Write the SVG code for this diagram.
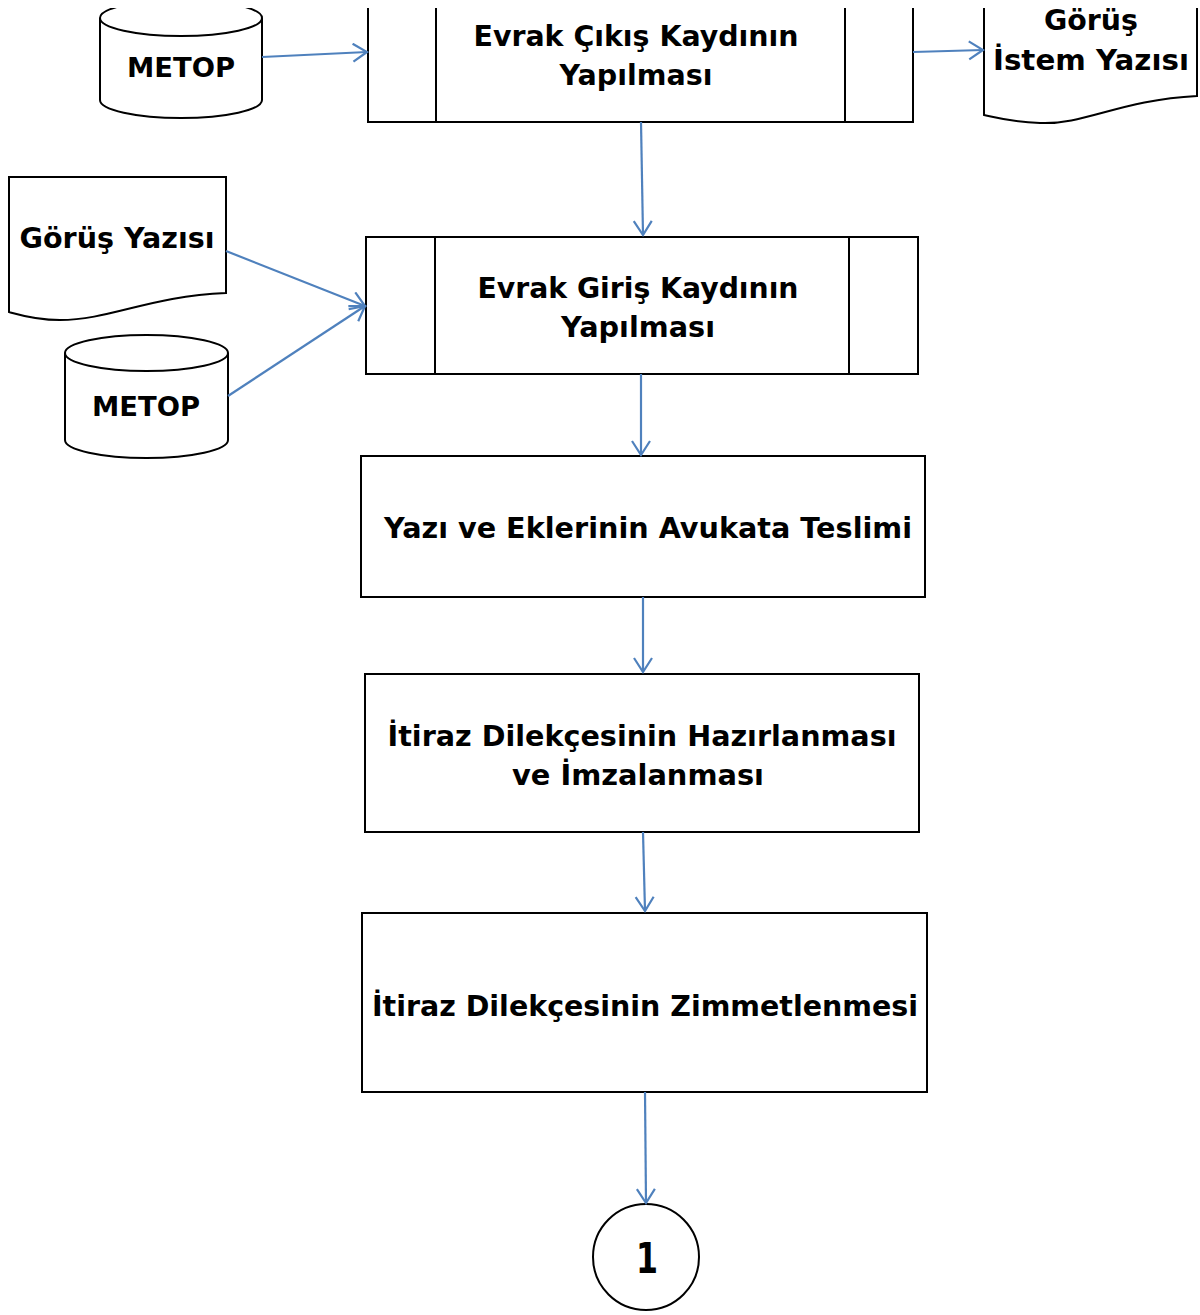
<svg xmlns="http://www.w3.org/2000/svg" width="1200" height="1315" viewBox="0 0 1200 1315">
<defs>
<style>
.s{fill:#fff;stroke:#000;stroke-width:2}
.l{fill:none;stroke:#000;stroke-width:2}
.t{font-family:"DejaVu Sans","Liberation Sans",sans-serif;font-weight:bold;font-size:29px;fill:#000;text-anchor:middle}
.m{font-size:27px}
.c{fill:none;stroke:#4f81bd;stroke-width:2.2}
</style>
<marker id="a" markerWidth="22" markerHeight="22" refX="17" refY="10" orient="auto" markerUnits="userSpaceOnUse">
<path d="M3,1 L17,10 L3,19" fill="none" stroke="#4f81bd" stroke-width="2.2"/>
</marker>
<clipPath id="clip"><rect x="0" y="8" width="1200" height="1307"/></clipPath>
</defs>
<rect width="1200" height="1315" fill="#fff"/>
<g clip-path="url(#clip)">
<g id="metop1">
<path class="s" d="M100,18 V100 A81,18 0 0 0 262,100 V18"/>
<ellipse class="s" cx="181" cy="18" rx="81" ry="18"/>
<text class="t m" x="181" y="77" textLength="108" lengthAdjust="spacingAndGlyphs">METOP</text>
</g>
<g id="cikis">
<rect class="s" x="368" y="-20" width="545" height="142"/>
<path class="l" d="M436,-20 V122 M845,-20 V122"/>
<text class="t" x="636" y="46" textLength="325" lengthAdjust="spacingAndGlyphs">Evrak Çıkış Kaydının</text>
<text class="t" x="636" y="85" textLength="153" lengthAdjust="spacingAndGlyphs">Yapılması</text>
</g>
<g id="istem">
<path class="s" d="M984,-20 H1197 V96 C1120,100 1085,125 1040,123 C1010,122 995,117 984,115 Z"/>
<text class="t" x="1091" y="30" textLength="94" lengthAdjust="spacingAndGlyphs">Görüş</text>
<text class="t" x="1091" y="70" textLength="196" lengthAdjust="spacingAndGlyphs">İstem Yazısı</text>
</g>
</g>
<g id="gorus">
<path class="s" d="M9,177 H226 V293 C150,296 110,320 60,320 C35,320 20,315 9,312 Z"/>
<text class="t" x="117" y="248" textLength="195" lengthAdjust="spacingAndGlyphs">Görüş Yazısı</text>
</g>
<g id="metop2">
<path class="s" d="M65,353 V440 A81.5,18 0 0 0 228,440 V353"/>
<ellipse class="s" cx="146.5" cy="353" rx="81.5" ry="18"/>
<text class="t m" x="146" y="416" textLength="108" lengthAdjust="spacingAndGlyphs">METOP</text>
</g>
<g id="giris">
<rect class="s" x="366" y="237" width="552" height="137"/>
<path class="l" d="M435,237 V374 M849,237 V374"/>
<text class="t" x="638" y="298" textLength="321" lengthAdjust="spacingAndGlyphs">Evrak Giriş Kaydının</text>
<text class="t" x="638" y="337" textLength="154" lengthAdjust="spacingAndGlyphs">Yapılması</text>
</g>
<g id="teslim">
<rect class="s" x="361" y="456" width="564" height="141"/>
<text class="t" x="648" y="538" textLength="528" lengthAdjust="spacingAndGlyphs">Yazı ve Eklerinin Avukata Teslimi</text>
</g>
<g id="hazirlama">
<rect class="s" x="365" y="674" width="554" height="158"/>
<text class="t" x="642" y="746" textLength="509" lengthAdjust="spacingAndGlyphs">İtiraz Dilekçesinin Hazırlanması</text>
<text class="t" x="638" y="785" textLength="252" lengthAdjust="spacingAndGlyphs">ve İmzalanması</text>
</g>
<g id="zimmet">
<rect class="s" x="362" y="913" width="565" height="179"/>
<text class="t" x="645" y="1016" textLength="546" lengthAdjust="spacingAndGlyphs">İtiraz Dilekçesinin Zimmetlenmesi</text>
</g>
<g id="baglanti">
<circle class="s" cx="646" cy="1257" r="53"/>
<text class="t" x="647" y="1273" style="font-size:42px" textLength="22" lengthAdjust="spacingAndGlyphs">1</text>
</g>
<g id="connectors">
<path class="c" d="M262,57 L367,52" marker-end="url(#a)"/>
<path class="c" d="M913,52 L983,50" marker-end="url(#a)"/>
<path class="c" d="M641,122 L643,235" marker-end="url(#a)"/>
<path class="c" d="M226,251 L365,306" marker-end="url(#a)"/>
<path class="c" d="M228,396 L365,306" marker-end="url(#a)"/>
<path class="c" d="M641,374 L641,455" marker-end="url(#a)"/>
<path class="c" d="M643,597 L643,672" marker-end="url(#a)"/>
<path class="c" d="M643,832 L645,911" marker-end="url(#a)"/>
<path class="c" d="M645,1092 L646,1203" marker-end="url(#a)"/>
</g>
</svg>
